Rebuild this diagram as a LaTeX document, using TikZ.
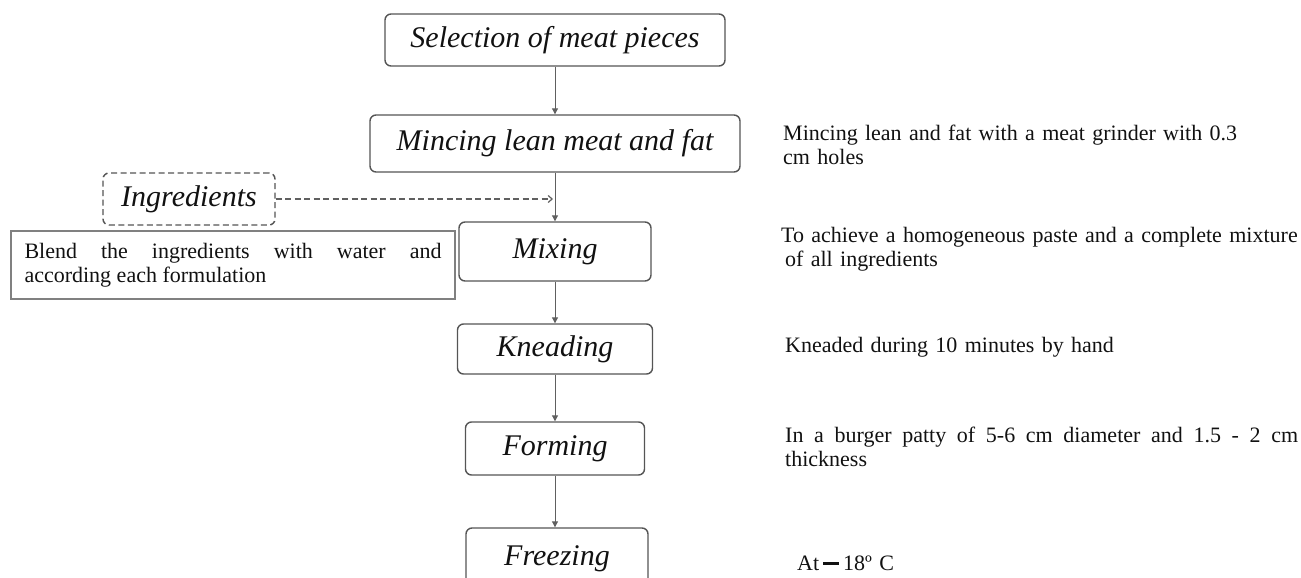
\documentclass[tikz,border=0pt]{standalone}
\usepackage{fontspec}
\setmainfont{Liberation Serif}
\usetikzlibrary{arrows.meta}
\definecolor{boxc}{HTML}{555555}
\definecolor{arrc}{HTML}{606060}
\definecolor{txtc}{HTML}{111111}
\begin{document}
\begin{tikzpicture}[x=1pt,y=-1pt,
  stepbox/.style={draw=boxc, line width=1.4pt, rounded corners=6pt, inner sep=0pt,
    text=txtc, font=\fontsize{30}{32}\selectfont\itshape},
  desc/.style={anchor=north west, inner sep=0pt, align=left, text=txtc,
    font=\fontsize{22}{24}\selectfont, text width=540pt},
  flow/.style={draw=arrc, line width=1pt, -{Triangle[length=6pt,width=6pt,fill=arrc]}},
  dflow/.style={draw=arrc, line width=1.2pt, dash pattern=on 6pt off 3.5pt, -{Straight Barb[length=4pt,width=7pt]}},
]
\path[use as bounding box] (0,0) rectangle (1301,578);
\clip (0,0) rectangle (1301,578);

% main flow
\node[stepbox, minimum width=340pt, minimum height=52pt] (sel) at (555,40) {Selection of meat pieces};
\node[stepbox, minimum width=370pt, minimum height=57pt] (minc) at (555,143.5) {Mincing lean meat and fat};
\node[stepbox, minimum width=192pt, minimum height=59pt] (mix) at (555,251.5) {Mixing};
\node[stepbox, minimum width=195pt, minimum height=50pt] (knead) at (555,349) {Kneading};
\node[stepbox, minimum width=179pt, minimum height=53pt] (form) at (555,448.5) {Forming};
\node[stepbox, minimum width=182pt, minimum height=62pt] (freeze) at (557,559) {Freezing};

% ingredients
\node[stepbox, dash pattern=on 6pt off 3.5pt, minimum width=172pt, minimum height=52pt] (ingr) at (189,199) {Ingredients};
\node[draw=gray, line width=1.3pt, minimum width=444pt, minimum height=68pt, inner xsep=13.5pt,
  text width=417pt, align=justify, text=txtc, font=\fontsize{22}{24}\selectfont] (blend) at (233,265)
  {Blend the ingredients with water and\linebreak according each formulation};

\coordinate (dj) at (553,199);

\draw[flow] (sel) -- (minc);
\draw[flow] (minc) -- (mix);
\draw[flow] (mix) -- (knead);
\draw[flow] (knead) -- (form);
\draw[flow] (form) -- (form.south |- freeze.north);
\draw[dflow] (ingr.east) -- (dj);

% descriptions
\node[desc] (d1) at (783,125) {Mincing lean and fat with a meat grinder with 0.3\\cm holes};
\node[desc] (d2) at (781,227) {To achieve a homogeneous paste and a complete mixture\\\hspace*{4pt}of all ingredients};
\node[desc] (d3) at (785,337) {Kneaded during 10 minutes by hand};
\node[desc, text width=513pt, align=justify] (d4) at (785,427) {In a burger patty of 5-6 cm diameter and 1.5 - 2 cm\linebreak thickness};
\node[desc] (d5) at (797,556) {At\kern4pt\raisebox{6pt}{\rule{16pt}{2.4pt}}\kern4pt 18º C};
\end{tikzpicture}
\end{document}
